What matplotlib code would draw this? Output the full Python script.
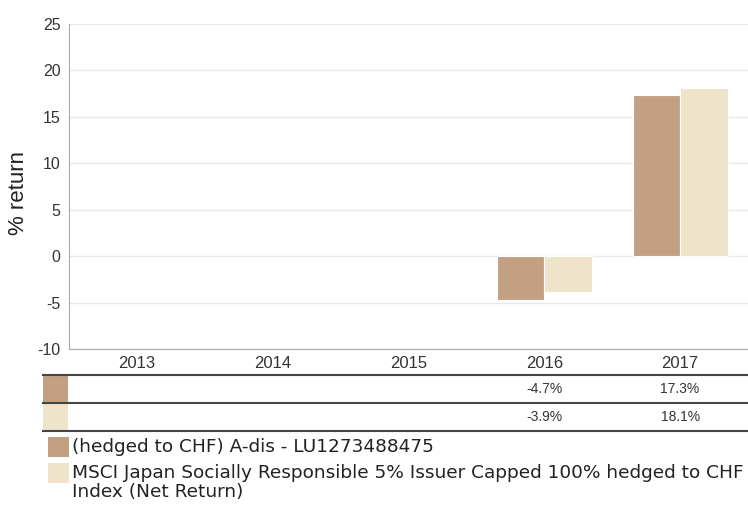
import numpy as np
import matplotlib.pyplot as plt
from matplotlib.patches import Rectangle
from matplotlib.lines import Line2D

# data
years = ["2013", "2014", "2015", "2016", "2017"]
fund = [np.nan, np.nan, np.nan, -4.7, 17.3]
index = [np.nan, np.nan, np.nan, -3.9, 18.1]
fund_name = "(hedged to CHF) A-dis - LU1273488475"
index_name = "MSCI Japan Socially Responsible 5% Issuer Capped 100% hedged to CHF\nIndex (Net Return)"

c_fund = "#C4A082"
c_index = "#EFE3C9"
plt.rcParams['font.family'] = ['Liberation Sans', 'DejaVu Sans']
plt.rcParams['axes.unicode_minus'] = False

W, H = 748, 505
fig = plt.figure(figsize=(W / 100, H / 100), dpi=100)
ax = fig.add_axes([69 / W, 1 - 349 / H, (748 - 69) / W, (349 - 24) / H])

x = np.arange(len(years))
bw = 0.35
ax.bar(x - bw / 2, fund, bw, color=c_fund, edgecolor="white", linewidth=0.8, zorder=3)
ax.bar(x + bw / 2, index, bw, color=c_index, edgecolor="white", linewidth=0.8, zorder=3)

ax.set_xlim(-0.5, len(years) - 0.5)
ax.set_ylim(-10, 25)
ax.set_yticks(range(-10, 26, 5))
ax.set_xticks(x)
ax.set_xticklabels(years)
ax.grid(axis="y", color="#e8e8e8", linewidth=1, zorder=0)
for s in ["top", "right"]:
    ax.spines[s].set_visible(False)
for s in ["left", "bottom"]:
    ax.spines[s].set_color("#aaaaaa")
ax.tick_params(length=0, colors="#333333", pad=6)
ax.tick_params(axis="y", labelsize=11.5)
ax.tick_params(axis="x", labelsize=12, pad=5)
ax.set_ylabel("% return", fontsize=16, color="#222222")
ax.yaxis.set_label_coords(-(69 - 29) / (748 - 69), 0.48)


def fx(px):
    return px / W


def fy(py):
    return 1 - py / H


# table below the chart
rows = [(fund, c_fund, 375), (index, c_index, 403)]
for vals, col, top in rows:
    fig.add_artist(Line2D([fx(43), fx(748)], [fy(top), fy(top)], color="#444444", lw=1.5))
    fig.add_artist(Rectangle((fx(43), fy(top + 28)), fx(68) - fx(43), fy(top) - fy(top + 28),
                             color=col, lw=0))
    for i, v in enumerate(vals):
        if not np.isnan(v):
            ax.annotate(f"{v:.1f}%", xy=(x[i], 0), xycoords=("data", "figure fraction"),
                        xytext=(0, fy(top + 14) * fig.bbox.height), textcoords="offset pixels",
                        ha="center", va="center", fontsize=10, color="#333333",
                        annotation_clip=False)
fig.add_artist(Line2D([fx(43), fx(748)], [fy(431), fy(431)], color="#444444", lw=1.5))

# legend
fig.add_artist(Rectangle((fx(48), fy(457)), fx(69) - fx(48), fy(437) - fy(457), color=c_fund, lw=0))
fig.text(fx(72), fy(447), fund_name, ha="left", va="center", fontsize=13.3, color="#222222",
         family="DejaVu Sans")
fig.add_artist(Rectangle((fx(48), fy(483)), fx(69) - fx(48), fy(463) - fy(483), color=c_index, lw=0))
fig.text(fx(72), fy(464), index_name, ha="left", va="top", fontsize=13.3, color="#222222",
         family="DejaVu Sans", linespacing=1.05)

fig.savefig("out.png", dpi=100)
